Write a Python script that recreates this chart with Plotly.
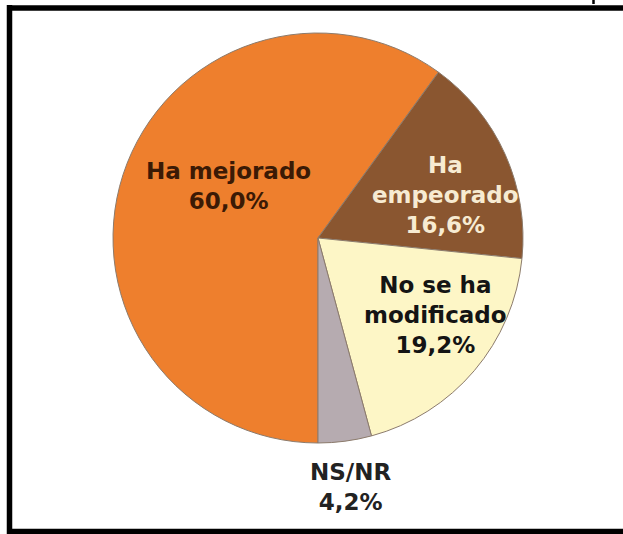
import plotly.graph_objects as go

labels = ["Ha mejorado", "Ha<br>empeorado", "No se ha<br>modificado", "NS/NR"]
values = [60.0, 16.6, 19.2, 4.2]
colors = ["#EE7F2D", "#8A5630", "#FDF6C6", "#B6ABB0"]
text_colors = ["#3B1A05", "#F7EBD2", "#141414", "#222222"]

# label centres on screen (px) - layout, not data
label_xy = [(228, 186), (445, 195), (435, 315), (350, 487)]

W, H = 623, 534
cx, cy, r = 318, 238, 205

fig = go.Figure(go.Pie(
    labels=labels,
    values=values,
    sort=False,
    direction="clockwise",
    rotation=180,
    marker=dict(colors=colors, line=dict(color="#8c7b6c", width=1)),
    textinfo="none",
    hoverinfo="label+percent",
    showlegend=False,
    domain=dict(x=[(cx - r) / W, (cx + r) / W], y=[(H - cy - r) / H, (H - cy + r) / H]),
))

total = sum(values)
annotations = []
for lab, v, col, (sx, sy) in zip(labels, values, text_colors, label_xy):
    pct = f"{100 * v / total:.1f}".replace(".", ",") + "%"
    annotations.append(dict(
        text=f"<b>{lab}<br>{pct}</b>",
        x=sx / W, y=1 - sy / H,
        xref="paper", yref="paper", xanchor="center", yanchor="middle",
        showarrow=False, align="center",
        font=dict(family="DejaVu Sans", size=23, color=col),
    ))

frame = dict(color="black", width=5.5)
fig.update_layout(
    width=W, height=H,
    margin=dict(l=0, r=0, t=0, b=0),
    paper_bgcolor="white",
    plot_bgcolor="white",
    annotations=annotations,
    shapes=[
        dict(type="line", xref="paper", yref="paper",
             x0=9.5 / W, x1=9.5 / W, y0=-0.01, y1=1 - 5 / H, line=frame),
        dict(type="line", xref="paper", yref="paper",
             x0=7 / W, x1=1.01, y0=1 - 8 / H, y1=1 - 8 / H, line=frame),
        dict(type="line", xref="paper", yref="paper",
             x0=7 / W, x1=1.01, y0=2.5 / H, y1=2.5 / H, line=frame),
        dict(type="line", xref="paper", yref="paper",
             x0=593.5 / W, x1=593.5 / W, y0=1 - 4 / H, y1=1.01,
             line=dict(color="black", width=2.5)),
    ],
)

fig.write_html(
    "out.html",
    config={"displayModeBar": False},
    post_script="document.body.style.margin='0px';document.body.style.overflow='hidden';",
)
